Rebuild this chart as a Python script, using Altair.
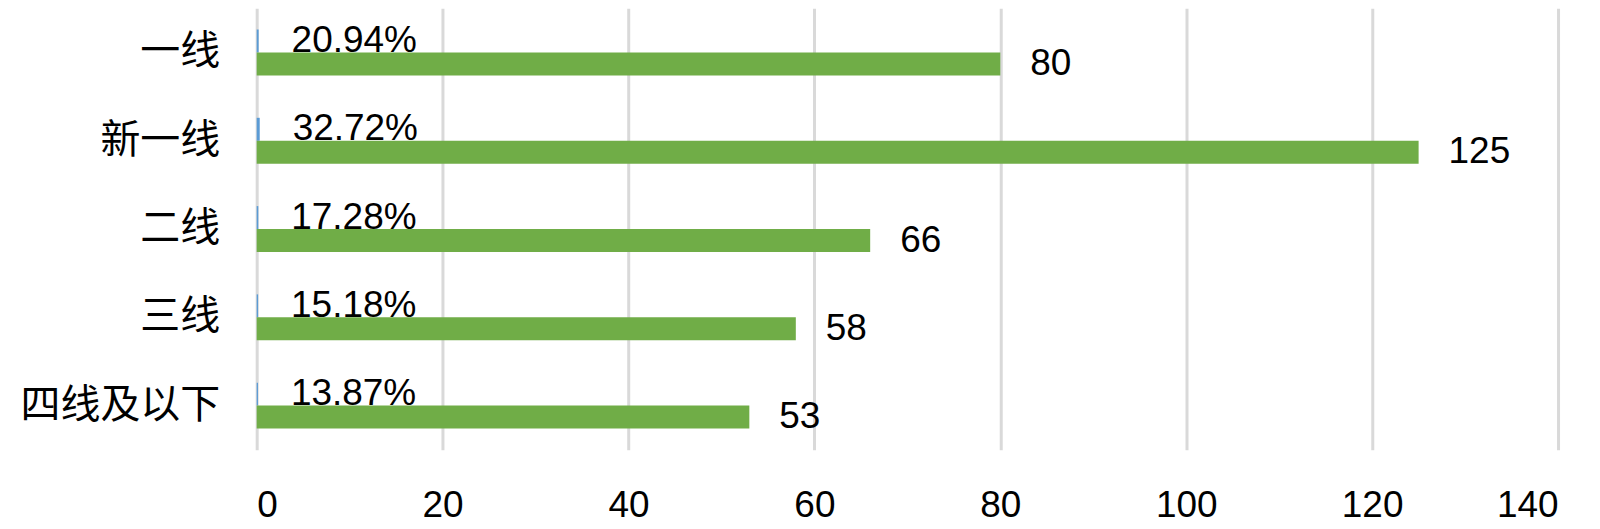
import altair as alt
import pandas as pd

categories = ["一线", "新一线", "二线", "三线", "四线及以下"]
counts = [80, 125, 66, 58, 53]
shares = [0.2094, 0.3272, 0.1728, 0.1518, 0.1387]
series_names = ["占比", "数量"]
x_ticks = [0, 20, 40, 60, 80, 100, 120, 140]

rows = []
for c, s in zip(categories, shares):
    rows.append({"category": c, "series": "占比", "value": s})
for c, n in zip(categories, counts):
    rows.append({"category": c, "series": "数量", "value": n})
df = pd.DataFrame(rows)

y_enc = alt.Y(
    "category:N",
    sort=categories,
    scale=alt.Scale(paddingInner=0.48, paddingOuter=0.24),
    axis=alt.Axis(
        title=None, domain=False, ticks=False, grid=False,
        labelFont="Noto Sans CJK SC", labelFontSize=40, labelColor="#000000",
        labelPadding=37, labelLimit=0,
    ),
)
yoff_enc = alt.YOffset(
    "series:N",
    scale=alt.Scale(domain=series_names, paddingInner=0, paddingOuter=0),
)
x_enc = alt.X(
    "value:Q",
    scale=alt.Scale(domain=[0, 140], nice=False),
    axis=alt.Axis(
        values=x_ticks, title=None, domain=False, ticks=False,
        grid=True, gridColor="#d9d9d9", gridWidth=3,
        labelFont="Liberation Sans", labelFontSize=37, labelColor="#000000",
        labelPadding=38,
    ),
)
color_enc = alt.Color(
    "series:N",
    scale=alt.Scale(domain=series_names, range=["#5B9BD5", "#70AD47"]),
    legend=None,
)

base = alt.Chart(df)

bars = base.mark_bar().encode(x=x_enc, y=y_enc, yOffset=yoff_enc, color=color_enc)

pct_text = base.transform_filter(alt.datum.series == "占比").mark_text(
    align="left", baseline="middle", dx=33,
    font="Liberation Sans", fontSize=37, color="#000000",
).encode(
    x=alt.X("value:Q"), y=alt.Y("category:N", sort=categories), yOffset=alt.YOffset("series:N"),
    text=alt.Text("value:Q", format=".2%"),
)

cnt_text = base.transform_filter(alt.datum.series == "数量").mark_text(
    align="left", baseline="middle", dx=30,
    font="Liberation Sans", fontSize=37, color="#000000",
).encode(
    x=alt.X("value:Q"), y=alt.Y("category:N", sort=categories), yOffset=alt.YOffset("series:N"),
    text=alt.Text("value:Q", format="d"),
)

chart = alt.layer(bars, pct_text, cnt_text).properties(
    width=1303,
    height=442,
    padding={"left": 249, "top": 0, "right": 34, "bottom": 76},
    autosize=alt.AutoSizeParams(type="none"),
    background="#ffffff",
).configure_view(stroke=None)

chart.save("out.html", embed_options={"renderer": "svg", "actions": False})
